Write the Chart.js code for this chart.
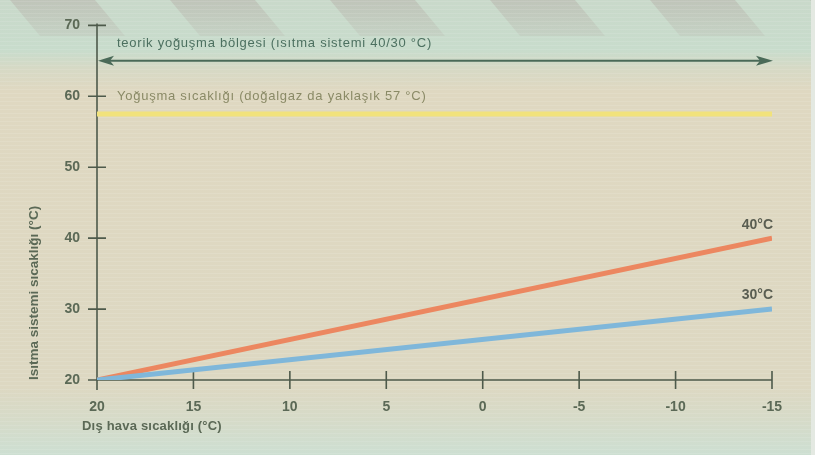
<!DOCTYPE html>
<html>
<head>
<meta charset="utf-8">
<script src="https://cdn.jsdelivr.net/npm/chart.js@4.4.1/dist/chart.umd.min.js"></script>
<style>
html,body{margin:0;padding:0;background:#dcd6bf;}
#wrap{width:815px;height:455px;position:relative;}
</style>
</head>
<body>
<div id="wrap"><canvas id="c" width="815" height="455"></canvas></div>
<script>
// ---- data ----
const outdoorTemps = [20, -15];            // Dış hava sıcaklığı (°C)
const supply40 = [20, 40];                 // 40 °C system
const supply30 = [20, 30];                 // 30 °C system
const dewPoint = [57.5, 57.5];             // Yoğuşma sıcaklığı
const zoneArrowLevel = 65;                 // teorik yoğuşma bölgesi arrow
const xTicks = [20, 15, 10, 5, 0, -5, -10, -15];
const yTicks = [20, 30, 40, 50, 60, 70];
const seriesLabels = ['40°C', '30°C'];
const texts = {
  zone: 'teorik yoğuşma bölgesi (ısıtma sistemi 40/30 °C)',
  dew: 'Yoğuşma sıcaklığı (doğalgaz da yaklaşık 57 °C)',
  xTitle: 'Dış hava sıcaklığı (°C)',
  yTitle: 'Isıtma sistemi sıcaklığı (°C)'
};

const FONT = '"Liberation Sans", Arial, sans-serif';
const AXIS = '#4e5a4b';
const TXT = '#5b6956';

const pts = (xs, ys) => xs.map((x, i) => ({x, y: ys[i]}));

const bgPlugin = {
  id: 'bg',
  beforeDraw(chart) {
    const ctx = chart.ctx, W = chart.width, H = chart.height;
    ctx.save();
    const g = ctx.createLinearGradient(0, 0, 0, H);
    g.addColorStop(0, '#c9d9ca');
    g.addColorStop(0.11, '#c8dccc');
    g.addColorStop(0.15, '#d6d9c5');
    g.addColorStop(0.2, '#dfd8c1');
    g.addColorStop(0.85, '#ddd8c2');
    g.addColorStop(0.93, '#d5dbc9');
    g.addColorStop(1, '#cddfd2');
    ctx.fillStyle = g;
    ctx.fillRect(0, 0, W, H);
    // diagonal stripes at the top
    const sg = ctx.createLinearGradient(0, 0, 0, 36);
    sg.addColorStop(0, 'rgba(180,172,165,0.45)');
    sg.addColorStop(1, 'rgba(180,172,165,0.2)');
    ctx.fillStyle = sg;
    for (let x0 = -150; x0 < W + 50; x0 += 160) {
      ctx.beginPath();
      ctx.moveTo(x0, 0);
      ctx.lineTo(x0 + 85, 0);
      ctx.lineTo(x0 + 85 + 30, 36);
      ctx.lineTo(x0 + 30, 36);
      ctx.closePath();
      ctx.fill();
    }
    // faint horizontal texture
    ctx.strokeStyle = 'rgba(255,255,255,0.10)';
    ctx.lineWidth = 1;
    for (let y = 1.5; y < H; y += 4) {
      ctx.beginPath(); ctx.moveTo(0, y); ctx.lineTo(W, y); ctx.stroke();
    }
    ctx.fillStyle = '#e4e9e2';
    ctx.fillRect(W - 4, 0, 4, H);
    ctx.restore();
  }
};

const overlayPlugin = {
  id: 'overlay',
  beforeDatasetsDraw(chart) {
    const ctx = chart.ctx, xs = chart.scales.x, ys = chart.scales.y;
    const x0 = xs.getPixelForValue(20), x1 = xs.getPixelForValue(-15);
    const yTop = ys.getPixelForValue(70), yBot = ys.getPixelForValue(20);
    ctx.save();
    ctx.strokeStyle = AXIS;
    ctx.lineWidth = 1.6;
    ctx.beginPath();
    ctx.moveTo(x0, yTop - 2); ctx.lineTo(x0, yBot + 10);
    ctx.moveTo(x0, yBot); ctx.lineTo(x1, yBot);
    yTicks.forEach(v => {
      const y = ys.getPixelForValue(v);
      ctx.moveTo(x0 - 9, y); ctx.lineTo(x0 + 9, y);
    });
    xTicks.forEach(v => {
      if (v === 20) return;
      const x = xs.getPixelForValue(v);
      ctx.moveTo(x, yBot - 9); ctx.lineTo(x, yBot + 9);
    });
    ctx.stroke();

    // arrow
    const ya = ys.getPixelForValue(zoneArrowLevel);
    ctx.strokeStyle = '#4a6a58';
    ctx.fillStyle = '#4a6a58';
    ctx.lineWidth = 2;
    ctx.beginPath();
    ctx.moveTo(x0 + 8, ya); ctx.lineTo(x1 - 8, ya);
    ctx.stroke();
    ctx.beginPath();
    ctx.moveTo(x0 + 1, ya); ctx.lineTo(x0 + 17, ya - 5); ctx.lineTo(x0 + 13, ya); ctx.lineTo(x0 + 17, ya + 5); ctx.closePath();
    ctx.fill();
    ctx.beginPath();
    ctx.moveTo(x1 + 1, ya); ctx.lineTo(x1 - 16, ya - 5); ctx.lineTo(x1 - 12, ya); ctx.lineTo(x1 - 16, ya + 5); ctx.closePath();
    ctx.fill();

    // texts
    ctx.textBaseline = 'middle';
    ctx.textAlign = 'left';
    ctx.font = '13px ' + FONT;
    ctx.letterSpacing = '0.75px';
    ctx.fillStyle = '#4c7060';
    ctx.fillText(texts.zone, x0 + 20, ys.getPixelForValue(67.5));
    ctx.fillStyle = '#8a8a66';
    ctx.fillText(texts.dew, x0 + 20, ys.getPixelForValue(60));

    ctx.font = 'bold 13px ' + FONT;
    ctx.letterSpacing = '0.2px';
    ctx.fillStyle = TXT;
    ctx.fillText(texts.xTitle, x0 - 15, yBot + 46);
    ctx.restore();
  },
  afterDatasetsDraw(chart) {
    const ctx = chart.ctx, xs = chart.scales.x, ys = chart.scales.y;
    const xe = xs.getPixelForValue(outdoorTemps[outdoorTemps.length - 1]);
    ctx.save();
    ctx.font = 'bold 14px ' + FONT;
    ctx.fillStyle = '#5a5e52';
    ctx.textAlign = 'right';
    ctx.textBaseline = 'middle';
    ctx.fillText(seriesLabels[0], xe + 1, ys.getPixelForValue(supply40[supply40.length - 1]) - 13);
    ctx.fillText(seriesLabels[1], xe + 1, ys.getPixelForValue(supply30[supply30.length - 1]) - 14);
    ctx.restore();
  }
};

new Chart(document.getElementById('c'), {
  type: 'line',
  data: {
    datasets: [
      { label: 'dew', data: pts(outdoorTemps, dewPoint), borderColor: '#f1e27c', borderWidth: 5, pointRadius: 0, borderCapStyle: 'butt' },
      { label: '30', data: pts(outdoorTemps, supply30), borderColor: '#7fb7da', borderWidth: 5, pointRadius: 0, borderCapStyle: 'butt' },
      { label: '40', data: pts(outdoorTemps, supply40), borderColor: '#ec8760', borderWidth: 5, pointRadius: 0, borderCapStyle: 'butt' }
    ]
  },
  options: {
    responsive: false,
    animation: false,
    events: [],
    layout: { padding: { left: 0, top: 20, right: 43, bottom: 0 } },
    plugins: { legend: { display: false }, tooltip: { enabled: false } },
    scales: {
      x: {
        type: 'linear', reverse: true, min: -15, max: 20,
        afterFit: s => { s.height = 75; },
        grid: { display: false, drawTicks: false },
        border: { display: false },
        afterBuildTicks: s => { s.ticks = xTicks.map(v => ({value: v})); },
        ticks: { padding: 19, color: TXT, font: { family: FONT, size: 14, weight: 'bold' }, maxRotation: 0, autoSkip: false }
      },
      y: {
        min: 20, max: 70,
        afterFit: s => { s.width = 97; },
        grid: { display: false, drawTicks: false },
        border: { display: false },
        afterBuildTicks: s => { s.ticks = yTicks.map(v => ({value: v})); },
        ticks: { padding: 17, color: TXT, font: { family: FONT, size: 14, weight: 'bold' } },
        title: { display: true, text: texts.yTitle, align: 'start', color: TXT, font: { family: FONT, size: 13.5, weight: 'bold' }, padding: { top: 26, bottom: 0 } }
      }
    }
  },
  plugins: [bgPlugin, overlayPlugin]
});
</script>
</body>
</html>
